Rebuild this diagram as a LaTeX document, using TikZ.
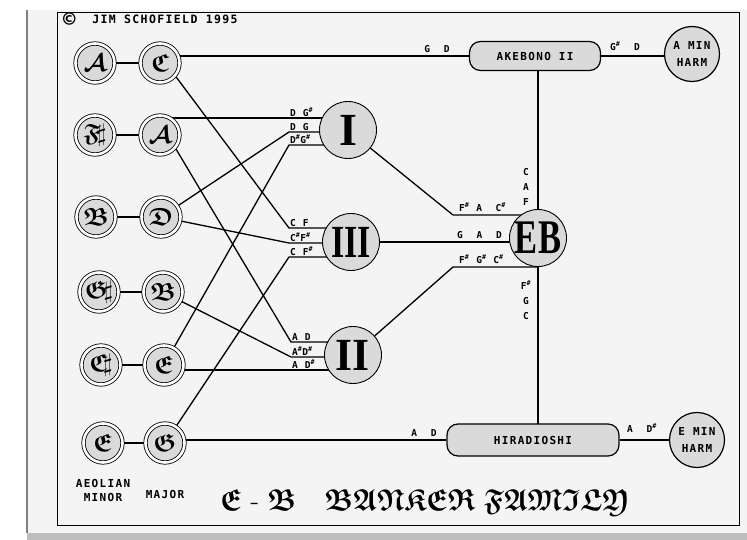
\documentclass[tikz,border=0pt]{standalone}
\usepackage{fontspec}
\usepackage{amssymb}
\usepackage{bm}
\usepackage{graphicx}
\setmonofont{DejaVu Sans Mono}[LetterSpace=12]
\newfontfamily\romfont{Liberation Serif}
\usetikzlibrary{calc,backgrounds}

\definecolor{paper}{HTML}{F4F4F4}
\definecolor{disc}{HTML}{DADADA}
\definecolor{scan}{HTML}{BDBDBD}

\newcommand{\sh}{\textsuperscript{\#}}
\newcommand{\fk}[1]{$\bm{\mathfrak{#1}}$}

\tikzset{
  keyring/.style={circle,draw,fill=disc,line width=0.8pt,double=white,
    double distance=2.6pt,minimum size=39pt,inner sep=0pt,font=\Huge},
  numeral/.style={circle,draw,fill=disc,line width=0.9pt,minimum size=57pt,
    inner sep=0pt,font=\romfont\bfseries\fontsize{46}{46}\selectfont},
  modebox/.style={rectangle,draw,fill=disc,line width=1.2pt,rounded corners=11pt,
    font=\ttfamily\bfseries\fontsize{11}{12}\selectfont},
  harmring/.style={circle,draw,fill=disc,line width=1.2pt,minimum size=55pt,
    inner sep=0pt,align=center,font=\ttfamily\bfseries\fontsize{11}{17}\selectfont},
  tag/.style={font=\ttfamily\bfseries\fontsize{9.5}{15}\selectfont,inner sep=1pt},
  wire/.style={line width=1.3pt}
}

\begin{document}
\begin{tikzpicture}[x=1pt,y=-1pt]
    \useasboundingbox (0,0) rectangle (747,540);

    %%% Key pairs: minor -- major %%%
    \node[keyring] (mA)  at (95,63)   {$\bm{\mathcal{A}}$};
    \node[keyring] (MC)  at (160,63)  {\fk{C}};
    \node[keyring] (mFs) at (95,135)  {\fk{F}$\!\sharp$};
    \node[keyring] (MA)  at (160,135) {$\bm{\mathcal{A}}$};
    \node[keyring] (mB)  at (96,217)  {\fk{B}};
    \node[keyring] (MD)  at (161,217) {\fk{D}};
    \node[keyring] (mGs) at (99,292)  {\fk{G}$\!\sharp$};
    \node[keyring] (MB)  at (163,292) {\fk{B}};
    \node[keyring] (mCs) at (101,365) {\fk{C}$\!\sharp$};
    \node[keyring] (ME)  at (164,365) {\fk{E}};
    \node[keyring] (mE)  at (103,443) {\fk{E}};
    \node[keyring] (MG)  at (165,443) {\fk{G}};

    \node[tag,align=center,font=\ttfamily\bfseries\fontsize{11}{14}\selectfont] (aeo) at (103,490) {AEOLIAN\\MINOR};
    \node[tag,font=\ttfamily\bfseries\fontsize{11}{14}\selectfont] (maj) at (165,494) {MAJOR};

    %%% Chord circles %%%
    \node[numeral] (I)   at (348,130) {I};
    \node[numeral] (III) at (351,242) {\scalebox{0.74}[1]{III}};
    \node[numeral] (II)  at (353,355) {\scalebox{0.95}[1]{II}};
    \node[numeral] (EB)  at (538,238) {\scalebox{0.75}[1.05]{EB}};

    %%% Scales %%%
    \node[modebox,minimum width=131pt,minimum height=29pt] (ake) at (535,56) {AKEBONO II};
    \node[modebox,minimum width=172pt,minimum height=32pt] (hira) at (533,440) {HIRADIOSHI};
    \node[harmring] (amin) at (692,54) {A MIN\\HARM};
    \node[harmring] (emin) at (697,440) {E MIN\\HARM};

    %%% Bends %%%
    \coordinate (Ia)   at (289,118);
    \coordinate (Ib)   at (289,132);
    \coordinate (Ic)   at (289,145);
    \coordinate (IIIa) at (289,228);
    \coordinate (IIIb) at (289,243);
    \coordinate (IIIc) at (289,257);
    \coordinate (IIa)  at (291,342);
    \coordinate (IIb)  at (291,357);
    \coordinate (IIc)  at (291,370);
    \coordinate (EBa)  at (453,215);
    \coordinate (EBc)  at (453,267);

    %%% Note labels %%%
    \node[tag,anchor=south west] (tIa)   at (Ia)   {D G\sh};
    \node[tag,anchor=south west] (tIb)   at (Ib)   {D G};
    \node[tag,anchor=south west] (tIc)   at (Ic)   {D\sh G\sh};
    \node[tag,anchor=south west] (tIIIa) at (IIIa) {C F};
    \node[tag,anchor=south west] (tIIIb) at (IIIb) {C\sh F\sh};
    \node[tag,anchor=south west] (tIIIc) at (IIIc) {C F\sh};
    \node[tag,anchor=south west] (tIIa)  at (IIa)  {A D};
    \node[tag,anchor=south west] (tIIb)  at (IIb)  {A\sh D\sh};
    \node[tag,anchor=south west] (tIIc)  at (IIc)  {A D\sh};

    \node[tag,anchor=south west] (tEBa) at ($(EBa)+(5,-2)$) {F\sh~A~~C\sh};
    \node[tag,anchor=south west] (tEBb) at (456,240) {G~~A~~D};
    \node[tag,anchor=south west] (tEBc) at ($(EBc)+(5,-2)$) {F\sh~G\sh~C\sh};
    \node[tag,align=center] (tup)  at (526,187) {C\\A\\F};
    \node[tag,align=center] (tdn)  at (526,300) {F\sh\\G\\C};
    \node[tag,anchor=south] (tgd)  at (437,54)  {G~~D};
    \node[tag,anchor=south] (tgsd) at (625,52)  {G\sh~~D};
    \node[tag,anchor=south] (tad)  at (424,438) {A~~D};
    \node[tag,anchor=south] (tads) at (642,434) {A~~D\sh};

    %%% Heading and title %%%
    \node[anchor=west,inner sep=0pt,font=\ttfamily\bfseries\fontsize{11.5}{12}\selectfont] (copy) at (63,20)
        {\raisebox{-3pt}{\scalebox{1.8}{©}}~~JIM SCHOFIELD 1995};
    \node[inner sep=0pt] (title) at (425,503)
        {\scalebox{1.12}[1.22]{\Huge\fk{E} - \fk{B}\quad\fk{BANKER}\ \fk{FAMILY}}};

    %%% Sheet and wires %%%
    \begin{scope}[on background layer]
        \fill[paper] (27,10) rectangle (747,540);
        \fill[scan] (27,533) rectangle (747,540);
        \draw[gray,line width=2pt] (27,10) -- (27,533);
        \draw[line width=0.9pt] (57,12) rectangle (739,525);

        \foreach \m/\M in {mA/MC,mFs/MA,mB/MD,mGs/MB,mCs/ME,mE/MG}
            \draw[wire] (\m) -- (\M);

        \draw[wire] (MA.center |- Ia) -- (Ia -| I.center);
        \draw[wire] (MD) -- (Ib) -- (Ib -| I.center);
        \draw[wire] (ME) -- (Ic) -- (Ic -| I.center);
        \draw[wire] (MC.-40) -- (IIIa) -- (IIIa -| III.center);
        \draw[wire] (MD) -- (IIIb) -- (IIIb -| III.center);
        \draw[wire] (MG) -- (IIIc) -- (IIIc -| III.center);
        \draw[wire] (MA.-40) -- (IIa) -- (IIa -| II.center);
        \draw[wire] (MB) -- (IIb) -- (IIb -| II.center);
        \draw[wire] (ME.center |- IIc) -- (IIc -| II.center);

        \draw[wire] (I) -- (EBa) -- (EBa -| EB.center);
        \draw[wire] (III) -- (III -| EB.center);
        \draw[wire] (II) -- (EBc) -- (EBc -| EB.center);

        \draw[wire] (MC.center |- ake.west) -- (ake);
        \draw[wire] (MG.center |- hira.west) -- (hira);
        \draw[wire] (ake) -- (ake -| amin.center);
        \draw[wire] (hira) -- (hira -| emin.center);
        \draw[wire] (EB |- ake) -- (EB) -- (EB |- hira);
    \end{scope}

\end{tikzpicture}
\end{document}
